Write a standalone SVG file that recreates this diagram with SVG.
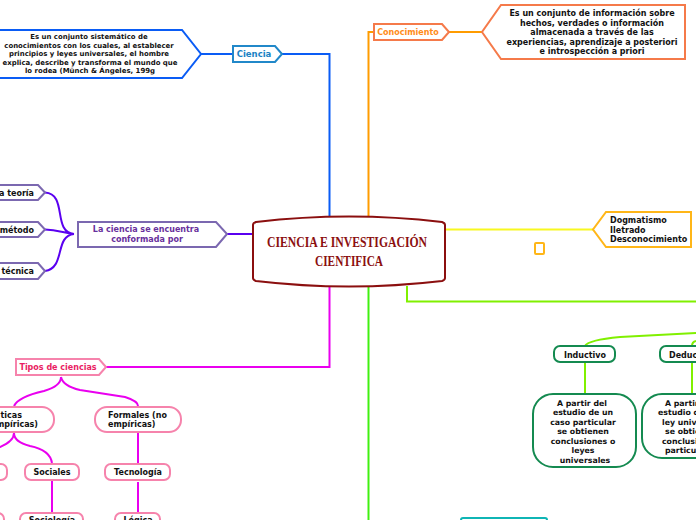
<svg xmlns="http://www.w3.org/2000/svg" width="696" height="520" viewBox="0 0 696 520">
<style>
text{font-family:"DejaVu Sans",Verdana,sans-serif;font-weight:700;font-size:8px;fill:#111;text-anchor:middle}
text.s{font-size:6.950px}
text.t{font-size:7.800px}
text.st{text-anchor:start}
text.e{text-anchor:end}
text.hd{font-family:"Liberation Serif",serif;font-size:14.500px;fill:#8b0f0f}
.n{fill:#fff;stroke-width:2}
.c{fill:none;stroke-width:2}
.pk{stroke:#f683ac}.pu{stroke:#7b68b0}.gr{stroke:#148a50}
.m{stroke:#e900ef}.v{stroke:#5a00f0}.l{stroke:#80f000}
</style>
<rect width="696" height="520" fill="#fff"/>
<g id="connectors">
<path class="c" stroke="#0a5cf5" d="M201 54H233M282 54H329.500V218"/>
<path class="c" stroke="#ff9c00" d="M368.500 219V32H374M449 32H482"/>
<path class="c" stroke="#f8f820" d="M445 229.500H593"/>
<path class="c l" d="M407 286V301.500H696"/>
<path class="c" stroke="#40f010" d="M368.500 286V520"/>
<path class="c v" d="M227 234H253"/>
<path class="c v" d="M45 192.500C68 194 52 232 74 234M45 229.500C58 230 64 233 74 234M45 271C66 268 54 236 74 234"/>
<path class="c m" d="M329.500 286V367H106"/>
<path class="c m" d="M61 377Q61 386 44 391Q18 397 14 406M61 377Q63 386 80 390L125 397Q138 401 138 406"/>
<path class="c m" d="M14 433Q14 441 0 447Q-10 450 -12 462M14 433Q14 442 30 446Q50 450 52 463M138 433V463M52 481V512M138 482V512"/>
<path class="c l" d="M585 346Q588 340 620 337L696 333M585 363V394M692 346Q692 342 696 341M692 363V394"/>
</g>
<g id="n-central">
<path d="M253 225Q253 223 256 222Q349 211 442 222Q445 223 445 225V278Q445 280 442 281Q349 292 256 281Q253 280 253 278Z" fill="#fff" stroke="#8b0f0f" stroke-width="2"/>
<text class="hd" x="347" y="247" textLength="160" lengthAdjust="spacingAndGlyphs">CIENCIA E INVESTIGACIÓN</text>
<text class="hd" x="349" y="266" textLength="68" lengthAdjust="spacingAndGlyphs">CIENTIFICA</text>
</g>
<g id="n-ciencia-def">
<path class="n" stroke="#0a5cf5" d="M-5 30H182L201 54L182 78H-5Z"/>
<text class="s" x="89" y="39">Es un conjunto sistemático de</text><text class="s" x="89" y="48">conocimientos con los cuales, al establecer</text><text class="s" x="89" y="56">principios y leyes universales, el hombre</text><text class="s" x="90" y="65">explica, describe y transforma el mundo que</text><text class="s" x="90" y="73">lo rodea (Münch &amp; Ángeles, 199g</text>
</g>
<g id="n-ciencia">
<path class="n" stroke="#2188c9" d="M233 46H275L282 54L275 62H233Z"/>
<text x="254" y="57" style="fill:#1a82c4;font-size:8.500px">Ciencia</text>
</g>
<g id="n-conocimiento">
<path class="n" stroke="#f57a4a" d="M374 24H442L449 32L442 40H374Z"/>
<text x="408" y="35" style="fill:#ff8c1a">Conocimiento</text>
</g>
<g id="n-conocimiento-def">
<path class="n" stroke="#f57a4a" d="M501 5H685V59H501L482 32Z"/>
<text x="592" y="16">Es un conjunto de información sobre</text><text x="592" y="26">hechos, verdades o información</text><text x="592" y="35">almacenada a través de las</text><text x="592" y="45">experiencias, aprendizaje a posteriori</text><text x="592" y="54">e introspección a priori</text>
</g>
<g id="n-dogmatismo">
<path class="n" stroke="#ffb618" d="M606 212H691V247H606L593 229.500Z"/>
<text class="st" x="610" y="223">Dogmatismo</text><text class="st" x="610" y="233">Iletrado</text><text class="st" x="610" y="242">Desconocimiento</text>
</g>
<g id="n-empty"><rect x="535" y="243" width="9" height="11" rx="1" fill="#fff" stroke="#ffb618" stroke-width="2"/></g>
<g id="n-teoria">
<path class="n pu" d="M-5 185H38L45 192.500L38 200H-5Z"/><text class="e" x="34" y="196">a teoría</text>
</g>
<g id="n-metodo">
<path class="n pu" d="M-5 222H38L45 229.500L38 237H-5Z"/><text class="e" x="34" y="233">método</text>
</g>
<g id="n-tecnica">
<path class="n pu" d="M-5 263H38L45 271L38 279H-5Z"/><text class="e" x="34" y="274">técnica</text>
</g>
<g id="n-conformada">
<path class="n pu" d="M78 222H216L227 234L216 247H78Z"/>
<text x="146" y="232" style="fill:#68309c">La ciencia se encuentra</text><text x="147" y="242" style="fill:#68309c">conformada por</text>
</g>
<g id="n-tipos">
<path class="n pk" d="M16 359H99L106 367L99 375H16Z"/>
<text x="58" y="370" style="fill:#e91e63">Tipos de ciencias</text>
</g>
<g id="n-facticas">
<rect class="n pk" x="-30" y="407" width="84" height="25" rx="12"/>
<text class="e" x="22" y="418">ticas</text><text class="e" x="38" y="427">mpíricas)</text>
</g>
<g id="n-formales">
<rect class="n pk" x="95" y="407" width="86" height="25" rx="12"/>
<text class="st" x="108" y="418">Formales (no</text><text class="st" x="108" y="427">empíricas)</text>
</g>
<g id="n-naturales"><rect class="n pk" x="-30" y="464" width="37" height="16" rx="6"/></g>
<g id="n-sociales"><rect class="n pk" x="25" y="464" width="54" height="16" rx="6"/><text x="52" y="475">Sociales</text></g>
<g id="n-tecnologia"><rect class="n pk" x="105" y="464" width="65" height="16" rx="6"/><text x="138" y="475">Tecnología</text></g>
<g id="n-fisica"><rect class="n pk" x="-30" y="513" width="34" height="16" rx="6"/></g>
<g id="n-sociologia"><rect class="n pk" x="20" y="513" width="63" height="16" rx="6"/><text x="52" y="523">Sociología</text></g>
<g id="n-logica"><rect class="n pk" x="115" y="513" width="45" height="16" rx="6"/><text x="138" y="523">Lógica</text></g>
<g id="n-inductivo"><rect class="n gr" x="554" y="346" width="61" height="16" rx="6"/><text x="585" y="358">Inductivo</text></g>
<g id="n-deductivo"><rect class="n gr" x="660" y="346" width="60" height="16" rx="6"/><text class="st" x="669" y="358">Deductivo</text></g>
<g id="n-inductivo-def">
<rect class="n gr" x="533" y="394" width="103" height="73" rx="20"/>
<text class="t" x="582" y="406">A partir del</text><text class="t" x="583" y="415">estudio de un</text><text class="t" x="583" y="425">caso particular</text><text class="t" x="583" y="434">se obtienen</text><text class="t" x="583" y="444">conclusiones o</text><text class="t" x="583" y="453">leyes</text><text class="t" x="585" y="463">universales</text>
</g>
<g id="n-deductivo-def">
<rect class="n gr" x="642" y="394" width="100" height="64" rx="20"/>
<text class="t st" x="665" y="406">A partir del</text><text class="t st" x="658" y="415">estudio de una</text><text class="t st" x="662" y="425">ley universal</text><text class="t st" x="665" y="434">se obtienen</text><text class="t st" x="662" y="444">conclusiones</text><text class="t st" x="665" y="453">particulares</text>
</g>
<g id="n-bottom"><rect class="n" stroke="#0fb5b5" x="461" y="518" width="86" height="20" rx="2"/></g>
</svg>
